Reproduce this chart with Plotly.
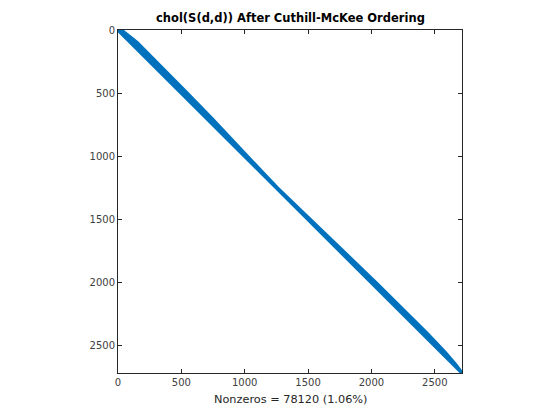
import plotly.graph_objects as go

# Matrix size and nonzero count (from the picture)
n = 2714
nnz = 78120
density_pct = 1.06

# Band profile of the Cholesky factor (row index -> bandwidth in columns)
band_rows = [0, 100, 300, 500, 700, 900, 1050, 1150, 1250, 1350, 1450, 1550, 1700, 1850, 2000, 2200, 2400, 2550, 2650, 2714]
band_width = [25, 50, 52, 46, 40, 32, 20, 12, 8, 8, 12, 18, 24, 30, 36, 40, 38, 30, 16, 0]

x_ticks = [0, 500, 1000, 1500, 2000, 2500]
y_ticks = [0, 500, 1000, 1500, 2000, 2500]

title_text = "chol(S(d,d)) After Cuthill-McKee Ordering"
xlabel_text = f"Nonzeros = {nnz} ({density_pct:.2f}%)"

blue = "#0072BD"
axcol = "#262626"

# polygon: along the diagonal then back along upper band edge
px = list(band_rows) + [r + w for r, w in zip(band_rows[::-1], band_width[::-1])]
py = list(band_rows) + list(band_rows[::-1])

fig = go.Figure()
fig.add_trace(go.Scatter(
    x=px, y=py, mode="lines", fill="toself",
    fillcolor=blue, line=dict(color=blue, width=3.5),
    hoverinfo="skip", showlegend=False, cliponaxis=False,
))

W, H = 560, 420
L, R, T, B = 110, 106, 22, 55
axis_common = dict(
    showgrid=False, zeroline=False, showline=True, linecolor=axcol, linewidth=1,
    mirror="ticks", ticks="inside", ticklen=4, tickcolor=axcol,
    tickfont=dict(family="DejaVu Sans", size=10, color="#404040"),
)
fig.update_layout(
    width=W, height=H,
    margin=dict(l=L, r=R, t=T, b=B, pad=0, autoexpand=False),
    plot_bgcolor="white", paper_bgcolor="white",
    xaxis=dict(range=[0, n + 1], tickvals=x_ticks, **axis_common),
    yaxis=dict(range=[n + 1, 0], tickvals=y_ticks, **axis_common),
    showlegend=False,
    annotations=[
        dict(text="<b>" + title_text + "</b>", xref="paper", yref="paper",
             x=0.5, y=1, yshift=12, xanchor="center", yanchor="middle", showarrow=False,
             font=dict(family="DejaVu Sans", size=11.5, color="black")),
        dict(text=xlabel_text, xref="paper", yref="paper",
             x=0.5, y=0, yshift=-26, xanchor="center", yanchor="middle", showarrow=False,
             font=dict(family="DejaVu Sans", size=11.3, color=axcol)),
    ],
)
fig.write_html("out.html")
